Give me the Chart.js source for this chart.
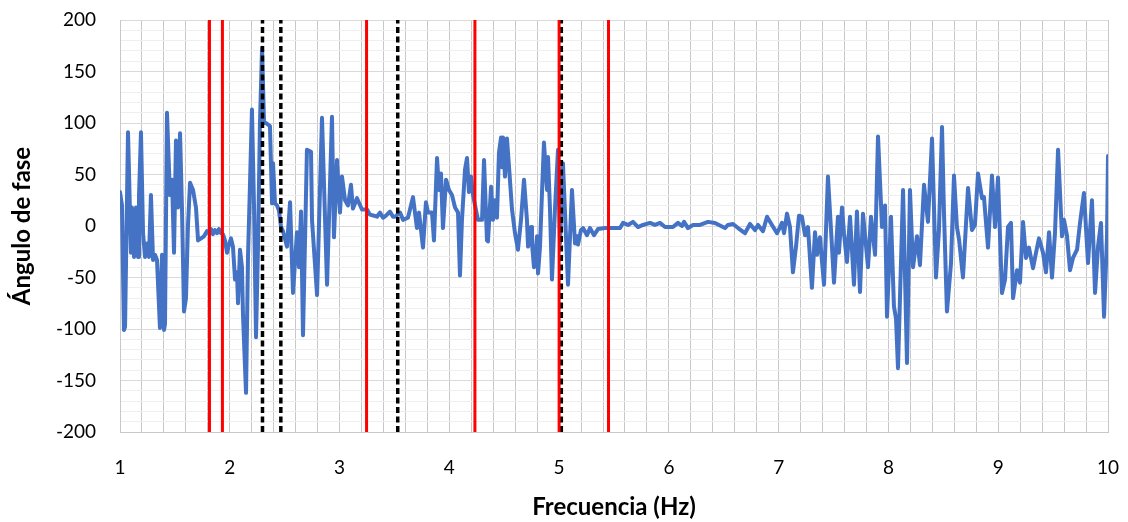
<!DOCTYPE html>
<html>
<head>
<meta charset="utf-8">
<script src="https://cdn.jsdelivr.net/npm/chart.js@4.4.1/dist/chart.umd.min.js"></script>
<style>
  html, body { margin: 0; padding: 0; background: #ffffff; }
  #wrap { width: 1128px; height: 522px; }
</style>
</head>
<body>
<div id="wrap"><canvas id="c" width="1128" height="522"></canvas></div>
<script>
// ---- Data ----
const freq = [
1.000,1.018,1.036,1.046,1.073,1.100,1.109,1.128,1.146,1.164,1.173,1.191,1.210,1.228,1.246,1.264,1.282,1.301,1.319,1.337,
1.364,1.383,1.401,1.410,1.428,1.455,1.474,1.492,1.510,1.528,1.547,1.565,1.583,1.601,1.619,1.638,1.665,1.692,1.711,1.738,
1.765,1.793,1.811,1.829,1.847,1.865,1.884,1.902,1.920,1.938,1.956,1.975,1.993,2.011,2.029,2.048,2.066,2.075,2.093,2.111,
2.120,2.148,2.166,2.184,2.202,2.221,2.239,2.257,2.275,2.294,2.312,2.330,2.366,2.385,2.394,2.412,2.430,2.448,2.467,2.485,
2.521,2.549,2.576,2.612,2.631,2.649,2.667,2.703,2.740,2.749,2.795,2.840,2.886,2.931,2.949,2.977,3.004,3.022,3.050,3.077,
3.104,3.122,3.159,3.204,3.250,3.277,3.314,3.341,3.368,3.396,3.423,3.459,3.487,3.505,3.551,3.578,3.623,3.669,3.705,3.724,
3.760,3.787,3.806,3.842,3.860,3.888,3.906,3.924,3.942,3.970,3.997,4.024,4.052,4.079,4.097,4.115,4.143,4.161,4.179,4.197,
4.216,4.234,4.261,4.298,4.316,4.343,4.352,4.380,4.398,4.416,4.434,4.452,4.471,4.480,4.489,4.507,4.525,4.544,4.571,4.598,
4.625,4.653,4.680,4.707,4.717,4.744,4.753,4.771,4.799,4.808,4.826,4.844,4.862,4.890,4.899,4.917,4.935,4.963,4.990,5.008,
5.035,5.081,5.117,5.145,5.163,5.172,5.199,5.218,5.254,5.281,5.318,5.354,5.418,5.463,5.555,5.582,5.628,5.673,5.719,5.764,
5.828,5.873,5.919,5.965,6.037,6.083,6.119,6.138,6.174,6.220,6.283,6.356,6.420,6.511,6.538,6.584,6.630,6.693,6.739,6.784,
6.812,6.857,6.894,6.939,6.985,7.012,7.030,7.049,7.076,7.103,7.130,7.158,7.185,7.212,7.240,7.267,7.303,7.331,7.349,7.376,
7.413,7.449,7.477,7.504,7.540,7.549,7.577,7.595,7.622,7.650,7.686,7.713,7.741,7.768,7.814,7.841,7.878,7.905,7.932,7.941,
7.969,7.987,8.023,8.050,8.069,8.087,8.133,8.169,8.196,8.224,8.260,8.287,8.324,8.360,8.397,8.433,8.460,8.488,8.506,8.533,
8.570,8.597,8.624,8.643,8.679,8.725,8.761,8.788,8.816,8.852,8.870,8.907,8.943,8.971,8.998,9.034,9.062,9.089,9.116,9.135,
9.171,9.198,9.226,9.253,9.280,9.317,9.344,9.371,9.408,9.435,9.463,9.490,9.517,9.545,9.581,9.599,9.626,9.654,9.681,9.718,
9.745,9.781,9.818,9.854,9.882,9.909,9.936,9.964,9.991,10.000
];
const angle = [
33,20,-101,-98,91,-26,18,-30,18,-30,28,91,-7,-30,-17,-30,30,-33,-28,-33,
-99,-28,-101,-95,110,30,45,-26,83,18,90,15,-83,-70,0,42,35,18,-14,-12,
-10,-5,-7,-3,-8,-4,-7,-3,-7,-8,-14,-26,-18,-12,-20,-52,-45,-75,-23,-40,
-85,-162,-30,40,113,18,-108,-20,100,173,100,100,97,22,61,22,20,15,-1,-5,
-20,23,-65,-6,-40,14,-106,74,72,6,-67,105,-57,106,-11,64,13,48,25,20,
40,17,27,16,16,11,10,9,13,8,10,14,9,9,13,6,8,28,-2,13,
-21,23,13,13,-14,66,35,51,-2,45,35,30,18,13,-48,6,55,66,33,48,
30,20,6,6,64,-14,-15,38,6,25,8,71,86,57,86,48,85,57,16,-7,
-23,6,45,6,-20,-1,-17,-40,-10,-46,-20,32,81,35,67,16,-52,18,74,-17,
61,-57,35,-17,-10,-18,-4,-2,-9,-2,-9,-3,-2,-2,-2,3,1,4,-1,1,
3,1,3,-1,-1,3,0,4,-2,1,1,4,3,-2,1,2,-2,-7,2,-4,
1,-5,9,1,-7,-1,3,-7,12,-1,-45,-20,10,9,-9,-1,-60,-6,-28,-11,
-57,48,-4,-55,9,-26,18,-7,-35,9,-57,14,-64,12,-40,9,-28,87,22,-1,
20,-88,9,-78,-90,-138,35,-133,35,-40,-10,-38,40,4,85,-50,-4,96,12,-83,
-36,49,-1,-13,-50,37,-4,1,51,27,28,-21,49,-1,47,-65,-52,-1,3,-70,
-43,-55,4,-31,-21,-41,-26,-12,-26,-45,-6,-50,-7,74,-10,6,-9,-43,-31,-23,
3,32,-36,25,-65,-20,3,-88,-10,68
];
// Vertical reference lines (Hz)
const redLines = [1.815, 1.933, 3.246, 4.233, 5.000, 5.450];
const blackLines = [2.298, 2.465, 3.530, 5.020];
// Axis settings
const xMin = 1, xMax = 10, xGridStep = 0.2;
const yMin = -200, yMax = 200, yMinorStep = 10, yMajorStep = 50;
const xTitle = 'Frecuencia (Hz)';
const yTitle = 'Ángulo de fase';

// ---- Chart ----
const datasets = [];
redLines.forEach(v => datasets.push({
  data: [{x: v, y: yMin}, {x: v, y: yMax}],
  borderColor: '#ff0000', borderWidth: 3, pointRadius: 0, order: 0
}));
blackLines.forEach(v => datasets.push({
  data: [{x: v, y: yMin}, {x: v, y: yMax}],
  borderColor: '#000000', borderWidth: 3.5, borderDash: [6, 3.5], pointRadius: 0, order: 0
}));
datasets.push({
  data: freq.map((f, i) => ({x: f, y: angle[i]})),
  borderColor: '#4472C4', borderWidth: 4, pointRadius: 0,
  borderJoinStyle: 'round', borderCapStyle: 'round', tension: 0, order: 5
});

const tickFont = {family: 'Lato', size: 19};
const titleFont = {family: 'Lato', size: 24, weight: 'bold'};

new Chart(document.getElementById('c'), {
  type: 'line',
  data: {datasets},
  options: {
    responsive: false,
    animation: false,
    devicePixelRatio: 1,
    layout: {padding: {left: 0, right: 20, top: 20, bottom: 0}},
    plugins: {legend: {display: false}, tooltip: {enabled: false}},
    scales: {
      x: {
        type: 'linear', min: xMin, max: xMax,
        afterFit: s => { s.height = 90; },
        ticks: {
          stepSize: xGridStep, autoSkip: false, maxRotation: 0, padding: 0,
          color: '#000', font: tickFont,
          callback: v => Math.abs(v - Math.round(v)) < 1e-6 ? String(Math.round(v)) : ''
        },
        grid: {color: '#c8c8c8', lineWidth: 1, drawTicks: true, tickLength: 24, tickColor: 'rgba(0,0,0,0)'},
        border: {display: true, color: '#c8c8c8'},
        title: {display: true, text: xTitle, color: '#000', font: titleFont, padding: {top: 0, bottom: 0}}
      },
      y: {
        type: 'linear', min: yMin, max: yMax,
        afterFit: s => { s.width = 120; },
        ticks: {
          stepSize: yMinorStep, autoSkip: false, padding: 0,
          color: '#000', font: tickFont,
          callback: v => (Math.round(v) % yMajorStep === 0) ? String(Math.round(v)) : ''
        },
        grid: {
          drawTicks: true, tickLength: 24, tickColor: 'rgba(0,0,0,0)', lineWidth: 1,
          color: ctx => (ctx.tick && Math.round(ctx.tick.value) % yMajorStep === 0) ? '#d9d9d9' : '#efefef'
        },
        border: {display: true, color: '#c8c8c8'},
        title: {display: true, text: yTitle, color: '#000', font: titleFont, padding: {top: 8, bottom: 0}}
      }
    }
  }
});
</script>
</body>
</html>
